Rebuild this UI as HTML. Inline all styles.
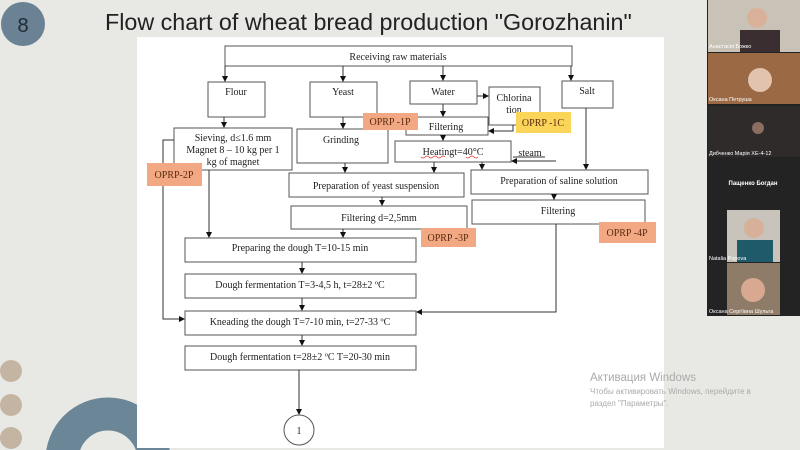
<!DOCTYPE html>
<html><head><meta charset="utf-8"><style>
html,body{margin:0;padding:0;width:800px;height:450px;overflow:hidden;background:#e8e8e5}
svg{display:block;overflow:hidden}
.t{font-family:"Liberation Serif",serif;font-size:10px;fill:#222}
.o{font-family:"Liberation Serif",serif;font-size:10px;fill:#5a2a10}
.v{font-family:"Liberation Sans","DejaVu Sans",sans-serif;font-size:5.5px;fill:#fff}
</style></head><body>
<svg width="800" height="450" viewBox="0 0 800 450" xmlns="http://www.w3.org/2000/svg">
<defs><marker id="a" markerWidth="6" markerHeight="6" refX="5" refY="3" orient="auto" markerUnits="userSpaceOnUse"><path d="M0,0 L6,3 L0,6z" fill="#111"/></marker>
<clipPath id="c"><rect width="800" height="450"/></clipPath></defs>
<g clip-path="url(#c)">
<rect width="800" height="450" fill="#e8e8e5"/>
<circle cx="23" cy="24" r="22" fill="#6a8294"/>
<text x="23" y="32" text-anchor="middle" font-family="Liberation Sans,sans-serif" font-size="20" fill="#1d2b36">8</text>
<text x="105" y="30" font-family="Liberation Sans,DejaVu Sans,sans-serif" font-size="23.3" fill="#222">Flow chart of wheat bread production "Gorozhanin"</text>
<circle cx="11" cy="371" r="11" fill="#c4b5a3"/><circle cx="11" cy="405" r="11" fill="#c4b5a3"/><circle cx="11" cy="438" r="11" fill="#c4b5a3"/>
<circle cx="108" cy="460" r="46" fill="none" stroke="#6b8797" stroke-width="33"/>
<rect x="137" y="37" width="527" height="411" fill="#fff"/>
<g fill="none" stroke="#555" stroke-width="1">
<rect x="225" y="46" width="347" height="20"/>
<rect x="208" y="82" width="57" height="35"/>
<rect x="310" y="82" width="67" height="35"/>
<rect x="410" y="81" width="67" height="23"/>
<rect x="489" y="87" width="51" height="38"/>
<rect x="562" y="81" width="51" height="27"/>
<rect x="174" y="128" width="118" height="42"/>
<rect x="297" y="129" width="91" height="34"/>
<rect x="406" y="117" width="82" height="18"/>
<rect x="395" y="141" width="116" height="21"/>
<rect x="289" y="173" width="175" height="24"/>
<rect x="471" y="170" width="177" height="24"/>
<rect x="291" y="206" width="176" height="23"/>
<rect x="472" y="200" width="173" height="24"/>
<rect x="185" y="238" width="231" height="24"/>
<rect x="185" y="274" width="231" height="24"/>
<rect x="185" y="311" width="231" height="24"/>
<rect x="185" y="346" width="231" height="24"/>
<circle cx="299" cy="430" r="15"/>
</g>
<g stroke="#333" stroke-width="1" fill="none" marker-end="url(#a)">
<path d="M225,66 V81"/><path d="M343,66 V81"/><path d="M443,66 V80"/><path d="M571,66 V80"/>
<path d="M477,96 H488"/>
<path d="M224,117 V127"/><path d="M343,117 V128"/><path d="M443,104 V116"/>
<path d="M513,125 V131 H489"/>
<path d="M443,135 V140"/>
<path d="M556,161 H512"/>
<path d="M345,163 V172"/><path d="M434,162 V172"/><path d="M482,162 V169"/><path d="M586,108 V169"/>
<path d="M382,197 V205"/><path d="M554,194 V199"/>
<path d="M209,170 V237"/><path d="M343,229 V237"/>
<path d="M302,262 V273"/><path d="M302,298 V310"/><path d="M302,335 V345"/>
<path d="M174,140 H163 V319 H184"/>
<path d="M556,224 V312 H417"/>
<path d="M299,370 V414"/>
</g>
<path d="M513,157 H545" stroke="#333" fill="none"/>
<text class="t" x="398" y="60" text-anchor="middle">Receiving raw materials</text>
<text class="t" x="236" y="95" text-anchor="middle">Flour</text>
<text class="t" x="343" y="95" text-anchor="middle">Yeast</text>
<text class="t" x="443" y="95" text-anchor="middle">Water</text>
<text class="t" x="514" y="101" text-anchor="middle">Chlorina</text>
<text class="t" x="514" y="113" text-anchor="middle">tion</text>
<text class="t" x="587" y="94" text-anchor="middle">Salt</text>
<text class="t" x="233" y="141" text-anchor="middle">Sieving, d≤1.6 mm</text>
<text class="t" x="233" y="153" text-anchor="middle">Magnet 8 – 10 kg per 1</text>
<text class="t" x="233" y="165" text-anchor="middle">kg of magnet</text>
<text class="t" x="341" y="143" text-anchor="middle">Grinding</text>
<text class="t" x="446" y="130" text-anchor="middle">Filtering</text>
<text class="t" x="453" y="155" text-anchor="middle">Heatingt=40°C</text>
<path d="M421,157 q2,2 4,0 t4,0 t4,0 t4,0 t4,0 t4,0 M466,157 q2,2 4,0 t4,0 t4,0" stroke="#d33" stroke-width="0.7" fill="none"/>
<text class="t" x="530" y="156" text-anchor="middle">steam</text>
<text class="t" x="376" y="189" text-anchor="middle">Preparation of yeast suspension</text>
<text class="t" x="559" y="184" text-anchor="middle">Preparation of saline solution</text>
<text class="t" x="379" y="221" text-anchor="middle">Filtering d=2,5mm</text>
<text class="t" x="558" y="214" text-anchor="middle">Filtering</text>
<text class="t" x="300" y="251" text-anchor="middle">Preparing the dough T=10-15 min</text>
<text class="t" x="300" y="288" text-anchor="middle">Dough fermentation T=3-4,5 h, t=28±2 ºC</text>
<text class="t" x="300" y="325" text-anchor="middle">Kneading the dough T=7-10 min, t=27-33 ºC</text>
<text class="t" x="300" y="360" text-anchor="middle">Dough fermentation t=28±2 ºC T=20-30 min</text>
<text class="t" x="299" y="434" text-anchor="middle">1</text>
<rect x="363" y="113" width="55" height="17" fill="#f2a983"/><text class="o" x="390" y="125" text-anchor="middle">OPRP -1P</text>
<rect x="516" y="112" width="55" height="21" fill="#fbd45a"/><text class="o" x="543" y="126" text-anchor="middle">OPRP -1C</text>
<rect x="147" y="163" width="55" height="23" fill="#f2a983"/><text class="o" x="174" y="178" text-anchor="middle">OPRP-2P</text>
<rect x="421" y="228" width="55" height="19" fill="#f2a983"/><text class="o" x="448" y="241" text-anchor="middle">OPRP -3P</text>
<rect x="599" y="222" width="57" height="21" fill="#f2a983"/><text class="o" x="627" y="236" text-anchor="middle">OPRP -4P</text>
<text x="590" y="381" font-family="Liberation Sans,DejaVu Sans,sans-serif" font-size="11.5" fill="#aaa">Активация Windows</text>
<text x="590" y="394" font-family="Liberation Sans,DejaVu Sans,sans-serif" font-size="8" fill="#aaa">Чтобы активировать Windows, перейдите в</text>
<text x="590" y="406" font-family="Liberation Sans,DejaVu Sans,sans-serif" font-size="8" fill="#aaa">раздел "Параметры".</text>
<rect x="707" y="0" width="93" height="316" fill="#232323"/>
<rect x="708" y="0" width="92" height="52" fill="#c9c2b6"/><rect x="740" y="30" width="40" height="22" fill="#3a2e30"/><circle cx="757" cy="18" r="10" fill="#d9b19a"/>
<text class="v" x="709" y="48">Анастасія Божко</text>
<rect x="708" y="53" width="92" height="51" fill="#9b6a44"/><circle cx="760" cy="80" r="12" fill="#e2c3ae"/>
<text class="v" x="709" y="101">Оксана Петруша</text>
<rect x="708" y="106" width="92" height="51" fill="#2e2b2a"/><circle cx="758" cy="128" r="6" fill="#8a6e60"/>
<text class="v" x="709" y="155">Дибченко Марія ХЕ-4-12</text>
<text x="753" y="185" text-anchor="middle" font-family="Liberation Sans,sans-serif" font-size="6" font-weight="bold" fill="#fff">Пащенко Богдан</text>
<rect x="727" y="210" width="53" height="52" fill="#c8c4bc"/><rect x="737" y="240" width="36" height="22" fill="#1f5a6a"/><circle cx="754" cy="228" r="10" fill="#d7b09a"/>
<text class="v" x="709" y="260">Natalia Popova</text>
<rect x="727" y="263" width="53" height="52" fill="#8e7c68"/><circle cx="753" cy="290" r="12" fill="#d9a890"/>
<text class="v" x="709" y="313">Оксана Сергіївна Шульга</text>
</g>
</svg>
</body></html>
